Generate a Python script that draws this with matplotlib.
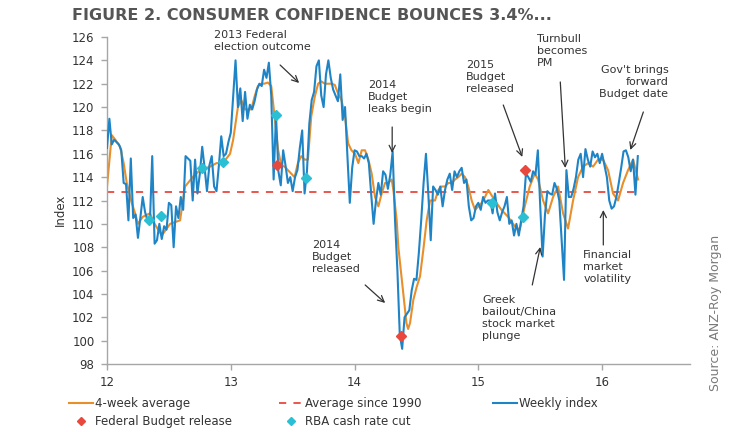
import matplotlib
matplotlib.use("Agg")
import matplotlib.pyplot as plt
import numpy as np

# ---------------- data ----------------
weekly_index = [
    116.5, 119.0, 116.8, 117.2, 117.0, 116.8, 116.3, 113.5, 113.4, 110.3,
    115.6, 110.5, 110.8, 108.8, 110.5, 112.3, 111.0, 110.3, 110.0, 115.8,
    108.3, 108.6, 110.0, 108.7, 109.8, 109.5, 111.8, 111.6, 108.0, 111.5,
    110.5, 112.3, 111.2, 115.8, 115.6, 115.4, 112.0, 115.5, 112.6, 114.3,
    116.6, 114.8, 112.8, 115.0, 115.8, 113.2, 112.8, 115.0, 117.5, 115.8,
    116.0, 117.0, 117.8, 120.9, 124.0, 120.0,
    121.6, 118.8, 121.3, 119.0, 120.2, 119.8, 120.5, 121.5, 122.0, 121.8,
    123.2, 122.5, 123.8, 121.0, 113.8, 119.3, 114.5, 113.3, 116.3, 115.0,
    113.5, 114.0, 112.8, 114.0, 114.6, 116.5, 118.0, 112.6, 114.5, 118.6,
    120.6, 121.3, 123.5, 124.0, 121.0, 120.0, 122.8, 124.0, 122.5, 121.5,
    121.0, 120.5, 122.8, 118.9, 120.0, 115.8, 111.8, 114.8, 116.3, 116.2,
    115.8, 115.8,
    115.6, 116.0, 115.2, 112.5, 110.0, 112.0, 113.5, 112.5, 114.5, 114.2,
    113.0, 114.2, 116.2, 110.3, 106.0, 100.5, 99.3, 102.0, 102.3, 102.6,
    104.3, 105.3, 105.2, 107.5, 110.3, 113.5, 116.0, 112.5, 108.6, 113.2,
    112.9, 112.5, 113.2, 111.5, 112.9, 113.8, 114.3, 112.9, 114.5, 114.0,
    114.5, 114.8, 113.5, 113.8, 111.5, 110.3, 110.5, 111.5, 111.8, 111.2,
    112.3, 111.8, 112.0,
    112.0, 110.9, 112.6, 111.0, 110.3, 111.0, 111.5, 112.3, 110.0, 110.3,
    109.0, 110.0, 109.0, 110.3, 111.5, 114.3, 114.0, 113.6, 114.5, 114.2,
    116.3, 111.5, 107.2, 110.8, 112.8, 112.6, 112.5, 113.5, 113.0, 112.0,
    108.6, 105.2, 114.6, 112.3, 112.3, 113.0, 114.0, 115.5, 116.0, 114.0,
    116.4, 115.5, 114.9, 116.2, 115.7, 116.0, 115.2, 116.0, 115.0, 114.0,
    112.0, 111.3, 111.5, 112.3, 113.5, 114.8, 116.2, 116.3, 115.7, 114.5,
    115.5, 112.5, 115.8,
]
start_year = 12.0          # first weekly observation (Jan 2012)
weeks_per_year = 52.0

avg4_week = [0, 2, 3.5, 5.5, 7, 8.3, 10.4, 11.8, 13, 15, 18, 20, 23, 26.5, 30.7,
             32.8, 36, 39, 43.3, 46, 48.7, 51.7, 53, 55, 56.4, 58, 60.6, 62, 63.4,
             64.8, 66, 67.6, 69, 70.4, 71.9, 73.2, 74.6, 76, 77.4, 78.8, 80.2, 81.6,
             83, 84.4, 85.8, 87.3, 88.7, 90, 91.5, 92.9, 94.3, 95.7, 97, 98.5, 100,
             101.3, 102.7, 104.2, 105.6, 107, 108.4, 109.8, 111.2, 112.6, 114, 115.4,
             116.8, 118.2, 119.6, 120.3, 121.7, 122.4, 124.5, 125.8, 126.5, 127.3,
             128.7, 130.1, 131.5, 132.9, 134.3, 135.7, 137.8, 139.2, 140.6, 142,
             143.4, 144.8, 146.2, 147.6, 149, 150.4, 151.8, 153.2, 154.6, 156, 157.4,
             158.8, 160.2, 162.9, 165.7, 168.5, 171.3, 173.4, 175.5, 177.6, 179.7,
             181.1, 183.2, 185.3, 187.4, 189.5, 191.6, 193.7, 195.8, 197.9, 200,
             202.1, 204.2, 206.3, 208.4, 210.5, 212.6, 214.7, 216.8, 218.9, 221, 223.1]
avg4_value = [113.2, 117.6, 117.2, 116.6, 115.2, 113.5, 111.8, 110.9, 110.0, 110.6,
              110.9, 110.0, 109.0, 110.0, 110.3, 113.2, 114.0, 114.6, 114.9, 115.2,
              115.2, 116.0, 117.2, 120.0, 120.6, 119.8, 119.8, 120.9, 121.8, 122.0,
              122.0, 122.1, 121.8, 119.2, 116.3, 115.0, 114.9, 114.6, 114.3, 114.0,
              115.2, 115.8, 115.5, 115.5, 119.2, 120.9, 122.0, 122.2, 122.0, 122.0,
              122.0, 121.9, 121.2, 120.6, 119.2, 116.9, 116.3, 116.0, 115.2, 116.3,
              116.3, 115.5, 114.3, 112.3, 111.5, 112.6, 113.5, 113.5, 113.8, 112.9,
              110.3, 108.0, 104.0, 101.5, 101.0, 101.5, 103.5, 104.6, 105.5, 107.8,
              110.3, 112.0, 112.0, 112.9, 113.2, 113.2, 113.5, 113.5, 113.8, 114.0,
              114.3, 114.0, 113.2, 112.0, 111.2, 111.5, 111.8, 112.3, 112.9, 112.0,
              111.2, 110.6, 109.8, 109.5, 111.5, 113.2, 114.3, 113.8, 112.0, 110.9,
              112.3, 113.2, 110.9, 109.6, 112.0, 114.0, 114.9, 115.2, 114.9, 115.5,
              115.5, 114.6, 112.6, 112.0, 113.5, 114.6, 115.5, 113.8]

avg_since_1990 = 112.7

budget_x = [13.377, 14.377, 15.377]
budget_y = [115.0, 100.4, 114.6]
rba_x = [12.342, 12.437, 12.765, 12.94, 13.369, 13.611, 15.107, 15.357]
rba_y = [110.3, 110.7, 114.8, 115.3, 119.3, 113.9, 111.8, 110.6]

year_ticks = [12, 13, 14, 15, 16]
year_labels = ["12", "13", "14", "15", "16"]
y_ticks = list(range(98, 127, 2))

# ---------------- style ----------------
BLUE = "#1f84c6"
ORANGE = "#e88f2c"
RED = "#e8493e"
CYAN = "#2bbfd3"
TXT = "#333333"
AXC = "#a6a6a6"

W, H = 740, 432
fig = plt.figure(figsize=(W / 100, H / 100), dpi=100)
ax = fig.add_axes([107 / W, 1 - 364 / H, (690 - 107) / W, (364 - 37) / H])

wx = start_year + np.arange(len(weekly_index)) / weeks_per_year
ox = start_year + np.array(avg4_week) / weeks_per_year

l_avg, = ax.plot([wx[0], wx[-1]], [avg_since_1990, avg_since_1990], color=RED,
                 lw=1.3, ls=(0, (4, 4)), label="Average since 1990", zorder=1)
l_4w, = ax.plot(ox, avg4_value, color=ORANGE, lw=1.5, label="4-week average", zorder=2)
l_wk, = ax.plot(wx, weekly_index, color=BLUE, lw=1.5, label="Weekly index", zorder=3)
m_b, = ax.plot(budget_x, budget_y, ls="none", marker="D", ms=5, color=RED,
               label="Federal Budget release", zorder=5)
m_r, = ax.plot(rba_x, rba_y, ls="none", marker="D", ms=5, color=CYAN,
               label="RBA cash rate cut", zorder=5)

ax.set_xlim(12, 16.71)
ax.set_ylim(98, 126)
ax.set_xticks(year_ticks)
ax.set_xticklabels(year_labels)
ax.set_yticks(y_ticks)
for s in ["top", "right"]:
    ax.spines[s].set_visible(False)
for s in ["left", "bottom"]:
    ax.spines[s].set_color(AXC)
    ax.spines[s].set_linewidth(1.0)
ax.tick_params(axis="both", colors=AXC, labelcolor=TXT, labelsize=8.5,
               length=4, width=1.0, direction="out", pad=5)
ax.patch.set_visible(False)

fig.text(60 / W, 1 - 210 / H, "Index", rotation=90, ha="center", va="center",
         fontsize=8.5, color=TXT)

# title
fig.text(72 / W, 1 - 20 / H, "FIGURE 2. CONSUMER CONFIDENCE BOUNCES 3.4%...",
         fontsize=11.5, fontweight="bold", color="#555555", va="baseline", ha="left")

# source
fig.text(715 / W, 1 - 313 / H, "Source: ANZ-Roy Morgan", rotation=90,
         ha="center", va="center", fontsize=9, color="#7a7a7a")


# ---------------- annotations ----------------
def px2d(x, y):
    return 12 + (x - 107) / 123.7, 126 - (y - 37) / 11.68


texts = [
    ("2013 Federal\nelection outcome", 214, 30, "left"),
    ("2014\nBudget\nleaks begin", 368, 80, "left"),
    ("2015\nBudget\nreleased", 466, 60, "left"),
    ("Turnbull\nbecomes\nPM", 537, 34, "left"),
    ("Gov't brings\nforward\nBudget date", 668, 65, "right"),
    ("2014\nBudget\nreleased", 312, 240, "left"),
    ("Greek\nbailout/China\nstock market\nplunge", 482, 295, "left"),
    ("Financial\nmarket\nvolatility", 583, 250, "left"),
]
for t, x, y, ha in texts:
    dx, dy = px2d(x, y)
    ax.text(dx, dy, t, ha=ha, va="top", fontsize=8, color=TXT, linespacing=1.25,
            multialignment=ha, clip_on=False, zorder=6)

arrows = [
    ((280, 65), (299, 83)),
    ((392, 127), (392, 153)),
    ((503, 105), (522, 157)),
    ((560, 82), (565, 168)),
    ((643, 112), (630, 150)),
    ((365, 285), (385, 303)),
    ((532, 285), (540, 247)),
    ((603, 245), (603, 210)),
]
for tail, head in arrows:
    ax.annotate("", xy=px2d(*head), xytext=px2d(*tail),
                arrowprops=dict(arrowstyle="->,head_length=0.45,head_width=0.22",
                                color="#333333", lw=0.9, shrinkA=0, shrinkB=0),
                annotation_clip=False, zorder=6)

# ---------------- legend (three columns) ----------------
common = dict(frameon=False, fontsize=8.5, handlelength=2.0, handletextpad=0.2,
              borderpad=0, borderaxespad=0, labelspacing=0.45, loc="upper left",
              labelcolor=TXT, markerscale=0.8)
fig.legend([l_4w, m_b], ["4-week average", "Federal Budget release"],
           bbox_to_anchor=(69 / W, 1 - 397 / H), **common)
fig.legend([l_avg, m_r], ["Average since 1990", "RBA cash rate cut"],
           bbox_to_anchor=(279 / W, 1 - 397 / H), **common)
fig.legend([l_wk], ["Weekly index"],
           bbox_to_anchor=(493 / W, 1 - 397 / H), **common)

fig.savefig("out.png", dpi=100)
